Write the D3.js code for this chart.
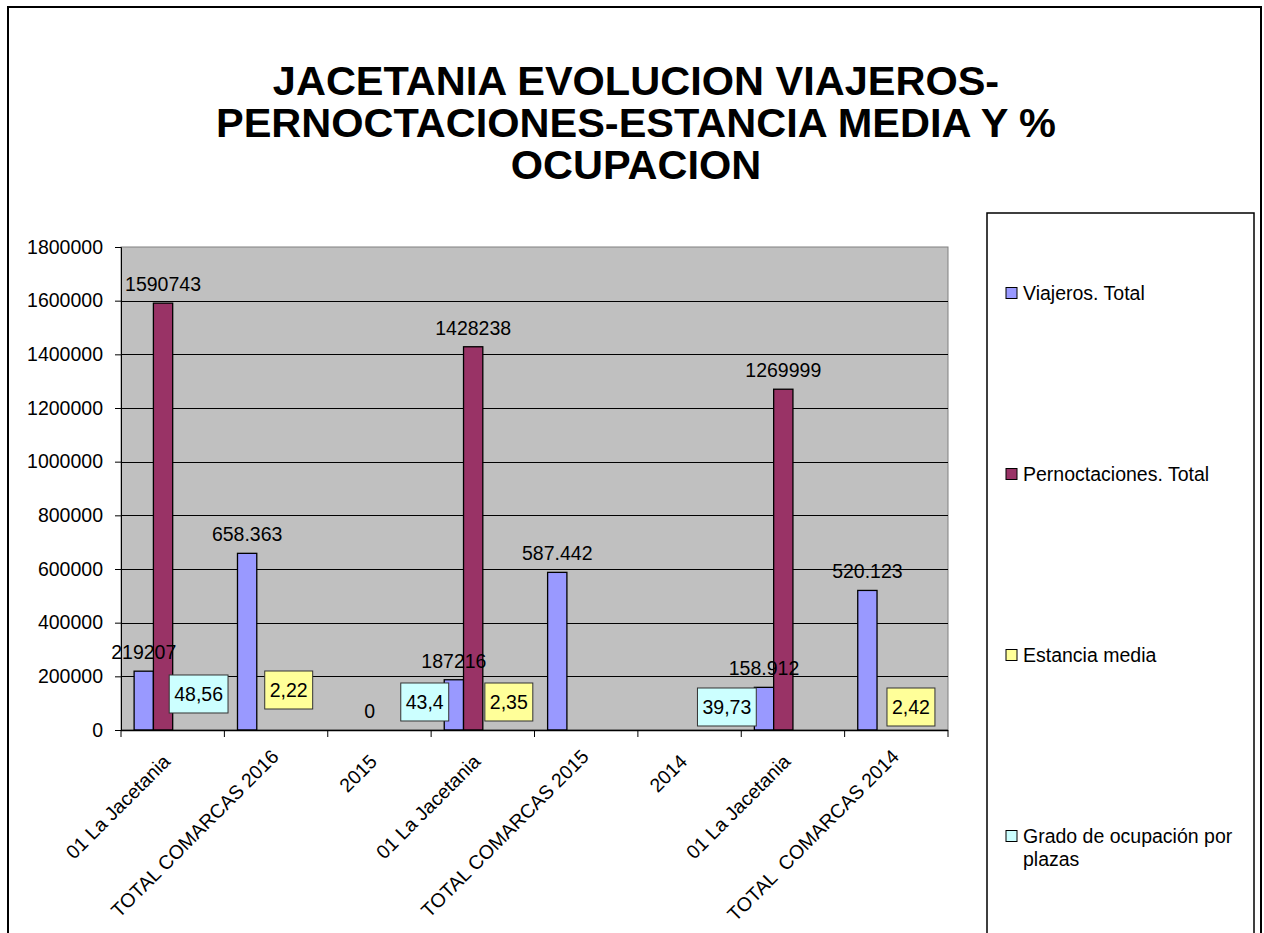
<!DOCTYPE html>
<meta charset="utf-8">
<head>
<style>
  body { margin: 0; background: #fff; }
  text { font-family: "Liberation Sans", Arial, sans-serif; fill: #000; }
</style>
</head>
<body>
<script src="https://d3js.org/d3.v7.min.js"></script>
<script>
  // chart data
  var titleLines = ["JACETANIA EVOLUCION VIAJEROS-", "PERNOCTACIONES-ESTANCIA MEDIA Y %", "OCUPACION"];
  var categories = ["01 La Jacetania", "TOTAL COMARCAS 2016", "2015", "01 La Jacetania", "TOTAL COMARCAS 2015", "2014", "01 La Jacetania", "TOTAL  COMARCAS 2014"];
  var seriesNames = ["Viajeros. Total", "Pernoctaciones. Total", "Estancia media", "Grado de ocupación por plazas"];
  var viajeros = [219207, 658363, null, 187216, 587442, null, 158912, 520123];
  var viajerosText = ["219207", "658.363", null, "187216", "587.442", null, "158.912", "520.123"];
  var pernoctaciones = [1590743, null, 0, 1428238, null, null, 1269999, null];
  var estancia = [null, 2.22, null, null, 2.35, null, null, 2.42];
  var grado = [48.56, null, null, 43.4, null, null, 39.73, null];
  var yTicks = [0, 200000, 400000, 600000, 800000, 1000000, 1200000, 1400000, 1600000, 1800000];

  var colors = ["#9999FF", "#993366", "#FFFF99", "#CCFFFF"];
  var allSeries = [viajeros, pernoctaciones, estancia, grado];

  var width = 1264, height = 933;
  var plot = { left: 121, right: 948, top: 247, bottom: 730 };

  var svg = d3.select("body").append("svg")
    .attr("width", width)
    .attr("height", height);

  svg.append("rect").attr("width", width).attr("height", height).attr("fill", "#fff");

  // outer chart border (open at the bottom)
  svg.append("rect")
    .attr("x", 8).attr("y", 7)
    .attr("width", 1253).attr("height", 1000)
    .attr("fill", "none").attr("stroke", "#000").attr("stroke-width", 2);

  // title, one text block with three lines
  svg.append("text")
    .attr("x", 636)
    .attr("y", 95)
    .attr("text-anchor", "middle")
    .style("font-size", "41.5px")
    .style("font-weight", "bold")
    .selectAll("tspan")
    .data(titleLines)
    .enter().append("tspan")
    .attr("x", 636)
    .attr("dy", function (d, i) { return i ? 42 : 0; })
    .text(function (d) { return d; });

  var x = d3.scaleBand().domain(d3.range(categories.length)).range([plot.left, plot.right]);
  var xs = d3.scaleBand().domain(d3.range(4)).range([0, x.bandwidth()]).paddingOuter(0.68);
  var y = d3.scaleLinear().domain([0, 1800000]).range([plot.bottom, plot.top]);

  // plot area
  svg.append("rect")
    .attr("x", plot.left).attr("y", plot.top)
    .attr("width", plot.right - plot.left).attr("height", plot.bottom - plot.top)
    .attr("fill", "#C0C0C0").attr("stroke", "#808080").attr("stroke-width", 1);

  svg.append("g").selectAll("line")
    .data(yTicks.slice(1, -1))
    .enter().append("line")
    .attr("x1", plot.left).attr("x2", plot.right)
    .attr("y1", function (d) { return Math.round(y(d)) + 0.5; })
    .attr("y2", function (d) { return Math.round(y(d)) + 0.5; })
    .attr("stroke", "#000").attr("stroke-width", 1);

  // y axis
  var yAxis = svg.append("g")
    .attr("transform", "translate(" + plot.left + ",0)")
    .call(d3.axisLeft(y).tickValues(yTicks).tickSize(6).tickPadding(12).tickFormat(d3.format("d")));
  yAxis.selectAll("text").style("font-size", "19.5px").style("font-family", "'Liberation Sans', Arial, sans-serif");
  yAxis.selectAll("line, path").attr("stroke", "#000");

  // bars (values near zero have no visible height in the original)
  allSeries.forEach(function (vals, s) {
    svg.append("g").selectAll("rect")
      .data(vals.map(function (v, i) { return { v: v, i: i }; }).filter(function (d) { return d.v != null; }))
      .enter().append("rect")
      .attr("x", function (d) { return x(d.i) + xs(s); })
      .attr("width", xs.bandwidth())
      .attr("y", function (d) { return y(d.v); })
      .attr("height", function (d) { return y(0) - y(d.v); })
      .attr("fill", colors[s])
      .attr("stroke", function (d) { return y(0) - y(d.v) < 1 ? "none" : "#000"; })
      .attr("stroke-width", 1.3);
  });

  // x axis
  svg.append("line")
    .attr("x1", plot.left).attr("x2", plot.right)
    .attr("y1", plot.bottom + 0.5).attr("y2", plot.bottom + 0.5)
    .attr("stroke", "#000").attr("stroke-width", 1.5);
  svg.append("g").selectAll("line")
    .data(d3.range(categories.length + 1))
    .enter().append("line")
    .attr("x1", function (d) { return plot.left + d * x.step(); })
    .attr("x2", function (d) { return plot.left + d * x.step(); })
    .attr("y1", plot.bottom).attr("y2", plot.bottom + 7)
    .attr("stroke", "#000");

  svg.append("g").selectAll("text")
    .data(categories)
    .enter().append("text")
    .attr("transform", function (d, i) {
      var shift = d.length > 16 ? 5 : 0;
      return "translate(" + (x(i) + x.bandwidth() / 2 - 11 + shift) + "," + (753 - shift) + ") rotate(-45)";
    })
    .attr("text-anchor", "end")
    .attr("dy", "0.71em")
    .style("font-size", "19.5px")
    .style("white-space", "pre")
    .text(function (d) { return d; });

  // value labels above bars
  function barCenter(i, s) { return x(i) + xs(s) + xs.bandwidth() / 2; }

  svg.append("g").selectAll("text")
    .data(viajeros.map(function (v, i) { return { v: v, i: i, t: viajerosText[i] }; }).filter(function (d) { return d.v != null; }))
    .enter().append("text")
    .attr("x", function (d) { return barCenter(d.i, 0); })
    .attr("y", function (d) { return y(d.v) - 12; })
    .attr("text-anchor", "middle")
    .style("font-size", "19.5px")
    .text(function (d) { return d.t; });

  svg.append("g").selectAll("text")
    .data(pernoctaciones.map(function (v, i) { return { v: v, i: i }; }).filter(function (d) { return d.v != null; }))
    .enter().append("text")
    .attr("x", function (d) { return barCenter(d.i, 1); })
    .attr("y", function (d) { return y(d.v) - 12; })
    .attr("text-anchor", "middle")
    .style("font-size", "19.5px")
    .text(function (d) { return String(d.v); });

  // boxed labels (dragged by hand in the original sheet)
  var boxNudge = { "2-1": [3, -21], "2-4": [-87, -9], "2-7": [5, -4], "3-0": [-3, -17], "3-3": [-87, -9], "3-6": [-95, -4] };
  [2, 3].forEach(function (s) {
    allSeries[s].forEach(function (v, i) {
      if (v == null) return;
      var n = boxNudge[s + "-" + i] || [0, 0];
      var cx = barCenter(i, s) + n[0];
      var cy = y(v) - 19 + n[1];
      var g = svg.append("g");
      var r = g.append("rect");
      var t = g.append("text")
        .attr("x", cx).attr("y", cy + 7)
        .attr("text-anchor", "middle")
        .style("font-size", "19.5px")
        .text(String(v).replace(".", ","));
      var tw = t.node().getComputedTextLength();
      r.attr("x", cx - tw / 2 - 5).attr("y", cy - 19)
        .attr("width", tw + 10).attr("height", 38)
        .attr("fill", colors[s]).attr("stroke", "#333").attr("stroke-width", 1);
    });
  });

  // legend
  svg.append("rect")
    .attr("x", 987).attr("y", 213)
    .attr("width", 267).attr("height", 800)
    .attr("fill", "#fff").attr("stroke", "#000").attr("stroke-width", 1.5);

  var leg = svg.append("g").selectAll("g")
    .data(seriesNames)
    .enter().append("g")
    .attr("transform", function (d, i) { return "translate(1006," + (293 + i * 181) + ")"; });
  leg.append("rect")
    .attr("x", 0).attr("y", -5.5).attr("width", 11).attr("height", 11)
    .attr("fill", function (d, i) { return colors[i]; })
    .attr("stroke", "#000").attr("stroke-width", 1);
  leg.append("text")
    .attr("x", 17).attr("y", 7)
    .style("font-size", "19.5px")
    .each(function (d) {
      var words = d === "Grado de ocupación por plazas" ? ["Grado de ocupación por", "plazas"] : [d];
      d3.select(this).selectAll("tspan").data(words).enter().append("tspan")
        .attr("x", 17).attr("dy", function (w, k) { return k ? 23 : 0; })
        .text(function (w) { return w; });
    });
</script>
</body>
</html>
